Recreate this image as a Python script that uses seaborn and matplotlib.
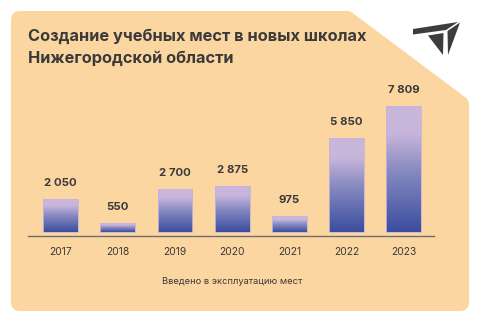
import matplotlib
matplotlib.use("Agg")
import matplotlib.pyplot as plt
import seaborn as sns
import numpy as np
from matplotlib.patches import Polygon
from matplotlib.colors import LinearSegmentedColormap

years = ["2017", "2018", "2019", "2020", "2021", "2022", "2023"]
values = [2050, 550, 2700, 2875, 975, 5850, 7809]
value_labels = ["2 050", "550", "2 700", "2 875", "975", "5 850", "7 809"]
title_lines = ["Создание учебных мест в новых школах", "Нижегородской области"]
xlabel = "Введено в эксплуатацию мест"

W, H = 480, 323
DPI = 100
sns.set_theme(style="white")
plt.rcParams['font.family'] = ['Inter', 'DejaVu Sans']

fig = plt.figure(figsize=(W / DPI, H / DPI), dpi=DPI, facecolor="white")

# background axes in pixel coordinates
bg = fig.add_axes([0, 0, 1, 1])
bg.set_xlim(0, W)
bg.set_ylim(H, 0)
bg.axis("off")

card_color = "#fcd6a0"
inset = [(19, 19), (347.3, 19), (461, 104), (461, 303), (19, 303)]
bg.add_patch(Polygon(inset, closed=True, facecolor=card_color, edgecolor=card_color,
                     linewidth=16 * 72 / DPI, joinstyle="round", zorder=0))

# logo
logo_c = "#3d3d3d"
bg.add_patch(Polygon([(413, 29), (458, 22), (446, 30), (413, 34.5)], closed=True,
                     facecolor=logo_c, edgecolor="none"))
bg.add_patch(Polygon([(428, 35.5), (443.5, 33), (443, 55)], closed=True,
                     facecolor=logo_c, edgecolor="none"))
bg.add_patch(Polygon([(447.5, 31), (460, 22.5), (448, 55)], closed=True,
                     facecolor=logo_c, edgecolor="none"))

text_c = "#3a3a3a"
bg.text(28, 41, title_lines[0], fontsize=11.8, fontweight="bold", color=text_c,
        va="baseline", ha="left")
bg.text(28, 63, title_lines[1], fontsize=11.8, fontweight="bold", color=text_c,
        va="baseline", ha="left")
bg.text(232, 281, xlabel, fontsize=6.7, color=text_c, ha="center", va="center")

# chart axes
ax_left, ax_right = 28, 434
ax_top, ax_bottom = 90, 236
ax = fig.add_axes([ax_left / W, (H - ax_bottom) / H, (ax_right - ax_left) / W,
                   (ax_bottom - ax_top) / H])
ax.set_facecolor("none")
sns.barplot(x=years, y=values, color="#8888c0", width=0.61, ax=ax,
            edgecolor="#c6b4da", linewidth=0.6)
ax.set_xlim(-0.57, 6.53)
ax.set_ylim(-248, 8820)

cmap = LinearSegmentedColormap.from_list(
    "g", [(0.0, "#3b4d9e"), (0.5, "#8a8cc2"), (0.78, "#c7b5db"), (1.0, "#c9b7dc")])
grad = np.linspace(0, 1, 256).reshape(-1, 1)
for p in list(ax.patches):
    x0, y0 = p.get_x(), p.get_y()
    w, h = p.get_width(), p.get_height()
    im = ax.imshow(grad, extent=(x0, x0 + w, y0, y0 + h), origin="lower",
                   aspect="auto", cmap=cmap, zorder=2)
    im.set_clip_path(p)
    p.set_facecolor("none")
    p.set_zorder(3)

for i, (v, lab) in enumerate(zip(values, value_labels)):
    ax.annotate(lab, (i, v), xytext=(0, 11), textcoords="offset pixels",
                ha="center", va="bottom", fontsize=8.2, fontweight="bold", color=text_c)

for s in ["top", "right", "left"]:
    ax.spines[s].set_visible(False)
ax.spines["bottom"].set_color("#6e6e6e")
ax.spines["bottom"].set_linewidth(1.0)
ax.set_yticks([])
ax.tick_params(axis="x", length=0, pad=8, labelsize=7.4, labelcolor=text_c)
ax.set_xlabel("")
ax.set_ylabel("")
ax.set_xlim(-0.57, 6.53)

fig.savefig("out.png", dpi=DPI, facecolor="white")
